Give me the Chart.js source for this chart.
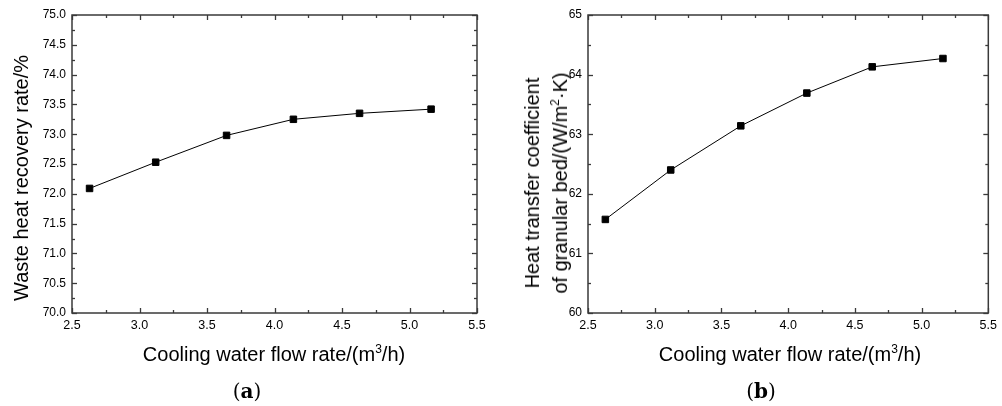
<!DOCTYPE html>
<html>
<head>
<meta charset="utf-8">
<script src="https://cdn.jsdelivr.net/npm/chart.js@4"></script>
<style>
  html, body { margin:0; padding:0; background:#fff; }
  body { width:1002px; height:406px; position:relative; overflow:hidden; font-family:"Liberation Sans", Arial, sans-serif; color:#000; }
  .cv { position:absolute; top:0; }
  .t { position:absolute; white-space:nowrap; font-size:20px; line-height:24px; transform:translate(-50%,-50%); }
  .rot { transform:translate(-50%,-50%) rotate(-90deg); text-align:center; }
  .t sup { font-size:12px; line-height:0; vertical-align:8px; }
  .lab { position:absolute; white-space:nowrap; font-family:"DejaVu Serif", serif; font-size:20px; transform:translate(-50%,-50%); }
  .lab b { font-weight:bold; }
</style>
</head>
<body>
<div class="cv" style="left:0;width:500px;height:406px;"><canvas id="c1"></canvas></div>
<div class="cv" style="left:500px;width:502px;height:406px;"><canvas id="c2"></canvas></div>

<div class="t rot" style="left:21px;top:178px;">Waste heat recovery rate/%</div>
<div class="t" style="left:274px;top:354px;">Cooling water flow rate/(m<sup>3</sup>/h)</div>
<div class="lab" style="left:247px;top:391px;">(<b>a</b>)</div>

<div class="t rot" style="left:546px;top:183px;line-height:28px;">Heat transfer coefficient<br>of granular bed/(W/m<sup>2</sup>·K)</div>
<div class="t" style="left:790px;top:354px;">Cooling water flow rate/(m<sup>3</sup>/h)</div>
<div class="lab" style="left:761px;top:391px;">(<b>b</b>)</div>

<script>
// ---- data ----
const flowRate = [2.63, 3.12, 3.645, 4.14, 4.63, 5.16];
const wasteHeatRecovery = [72.09, 72.53, 72.98, 73.25, 73.35, 73.42];
const heatTransferCoef = [61.57, 62.40, 63.14, 63.69, 64.13, 64.27];
const xTickRange = [2.5, 5.5];
const xStep = 0.5;
const yRangeA = [70, 75];
const yStepA = 0.5;
const yRangeB = [60, 65];
const yStepB = 1;

const frameTicks = {
  id: 'frameTicks',
  afterDraw(chart) {
    const { ctx, chartArea: a, scales: { x, y } } = chart;
    ctx.save();
    ctx.strokeStyle = '#3a3a3a';
    ctx.lineWidth = 1.3;
    const seg = (x1, y1, x2, y2) => { ctx.beginPath(); ctx.moveTo(x1, y1); ctx.lineTo(x2, y2); ctx.stroke(); };
    const majMin = (sc) => {
      const vals = sc.ticks.map(t => t.value);
      const minors = [];
      for (let i = 0; i < vals.length - 1; i++) minors.push((vals[i] + vals[i + 1]) / 2);
      return { vals, minors };
    };
    const xm = majMin(x), ym = majMin(y);
    xm.vals.forEach(v => { const p = Math.round(x.getPixelForValue(v)) + 0.5; seg(p, a.bottom, p, a.bottom - 5); seg(p, a.top, p, a.top + 5); });
    xm.minors.forEach(v => { const p = Math.round(x.getPixelForValue(v)) + 0.5; seg(p, a.bottom, p, a.bottom - 3); seg(p, a.top, p, a.top + 3); });
    ym.vals.forEach(v => { const p = Math.round(y.getPixelForValue(v)) + 0.5; seg(a.left, p, a.left + 5, p); seg(a.right, p, a.right - 5, p); });
    ym.minors.forEach(v => { const p = Math.round(y.getPixelForValue(v)) + 0.5; seg(a.left, p, a.left + 3, p); seg(a.right, p, a.right - 3, p); });
    ctx.lineWidth = 1.5;
    ctx.strokeRect(a.left, a.top, a.right - a.left, a.bottom - a.top);
    ctx.restore();
  }
};

function makeChart(id, yVals, yRange, yStep, yDecimals, yWidth, padRight) {
  const pts = flowRate.map((x, i) => ({ x, y: yVals[i] }));
  return new Chart(document.getElementById(id), {
    type: 'scatter',
    data: { datasets: [{
      data: pts,
      showLine: true,
      borderColor: '#000',
      borderWidth: 1,
      backgroundColor: '#000',
      pointStyle: 'rect',
      pointRadius: 4.6,
      pointBorderWidth: 1,
      pointBorderColor: '#000',
      pointBackgroundColor: '#000',
      tension: 0
    }] },
    options: {
      responsive: true,
      maintainAspectRatio: false,
      animation: false,
      events: [],
      layout: { padding: { top: 15, right: padRight, left: 0, bottom: 0 } },
      plugins: { legend: { display: false }, tooltip: { enabled: false } },
      scales: {
        x: {
          type: 'linear', min: xTickRange[0], max: xTickRange[1],
          grid: { display: false, drawTicks: false },
          border: { display: false },
          ticks: { stepSize: xStep, padding: 5, color: '#000', font: { family: 'Liberation Sans', size: 12.5 },
                   callback: v => v.toFixed(1), maxRotation: 0, autoSkip: false },
          afterFit: s => { s.height = 93; }
        },
        y: {
          type: 'linear', min: yRange[0], max: yRange[1],
          grid: { display: false, drawTicks: false },
          border: { display: false },
          ticks: { stepSize: yStep, padding: 6, color: '#000', font: { family: 'Liberation Sans', size: 12 },
                   callback: v => v.toFixed(yDecimals), autoSkip: false },
          afterFit: s => { s.width = yWidth; }
        }
      }
    },
    plugins: [frameTicks]
  });
}

makeChart('c1', wasteHeatRecovery, yRangeA, yStepA, 1, 72, 23);
makeChart('c2', heatTransferCoef, yRangeB, yStepB, 0, 88, 9);
</script>
</body>
</html>
